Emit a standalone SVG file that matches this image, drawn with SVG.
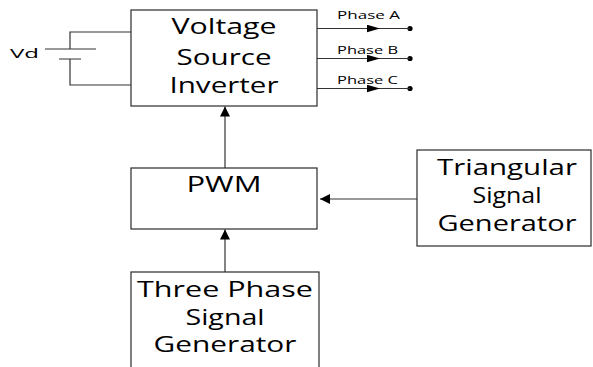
<svg xmlns="http://www.w3.org/2000/svg" width="593" height="367" viewBox="0 0 593 367">
<defs>
<style>
.box{fill:#fff;stroke:#2a2a2a;stroke-width:1.2}
.t{font-family:"Open Sans","Liberation Sans",sans-serif;font-size:22px;fill:#000;text-anchor:middle}
.s{font-family:"Open Sans","Liberation Sans",sans-serif;font-size:11px;fill:#000}
.w{fill:none;stroke:#333;stroke-width:1.2}
.c{fill:none;stroke:#333;stroke-width:1.2}
</style>
<marker id="ah" markerUnits="userSpaceOnUse" markerWidth="12" markerHeight="10" refX="9" refY="4.5" orient="auto" viewBox="0 0 10 9">
<path d="M0,0 L9,4.5 L0,9 Z" fill="#000"/>
</marker>
<marker id="ahp" markerUnits="userSpaceOnUse" markerWidth="13" markerHeight="8" refX="12" refY="3.5" orient="auto" viewBox="0 0 12 7">
<path d="M0,0 L12,3.5 L0,7 Z" fill="#000"/>
</marker>
</defs>
<rect width="593" height="367" fill="#fff"/>

<g id="battery">
<path class="w" d="M131,32 H70 V49 M45,49 H96 M59,59 H81 M70,59 V85 H131"/>
<text class="s" x="10" y="57.5" style="font-size:13.5px" textLength="29" lengthAdjust="spacingAndGlyphs">Vd</text>
</g>

<g id="vsi">
<rect class="box" x="131" y="10" width="186" height="96"/>
<text class="t" x="224" y="33.5" textLength="105" lengthAdjust="spacingAndGlyphs">Voltage</text>
<text class="t" x="224" y="64.5" textLength="95" lengthAdjust="spacingAndGlyphs">Source</text>
<text class="t" x="224" y="92.5" textLength="109" lengthAdjust="spacingAndGlyphs">Inverter</text>
</g>

<g id="pwm">
<rect class="box" x="131" y="168" width="186" height="61"/>
<text class="t" x="224" y="191.5" textLength="75" lengthAdjust="spacingAndGlyphs">PWM</text>
</g>

<g id="triangular">
<rect class="box" x="417" y="150" width="174" height="96"/>
<text class="t" x="507" y="175" textLength="140" lengthAdjust="spacingAndGlyphs">Triangular</text>
<text class="t" x="507" y="202.5" textLength="69" lengthAdjust="spacingAndGlyphs">Signal</text>
<text class="t" x="507" y="231" textLength="139" lengthAdjust="spacingAndGlyphs">Generator</text>
</g>

<g id="threephase">
<rect class="box" x="131" y="272" width="188" height="100"/>
<text class="t" x="225" y="297" textLength="176" lengthAdjust="spacingAndGlyphs">Three Phase</text>
<text class="t" x="225" y="324.5" textLength="79" lengthAdjust="spacingAndGlyphs">Signal</text>
<text class="t" x="225" y="351.5" textLength="143" lengthAdjust="spacingAndGlyphs">Generator</text>
</g>

<g id="outputs">
<text class="s" x="337" y="18.5" textLength="63" lengthAdjust="spacingAndGlyphs">Phase A</text>
<text class="s" x="337" y="53.5" textLength="61" lengthAdjust="spacingAndGlyphs">Phase B</text>
<text class="s" x="337" y="83.5" textLength="61" lengthAdjust="spacingAndGlyphs">Phase C</text>
<circle cx="410" cy="28.5" r="2.6" fill="#000"/>
<circle cx="410" cy="58.5" r="2.6" fill="#000"/>
<circle cx="410" cy="88.5" r="2.6" fill="#000"/>
</g>

<g id="connectors">
<path class="c" d="M317,28.5 H380 H410" marker-mid="url(#ahp)"/>
<path class="c" d="M317,58.5 H380 H410" marker-mid="url(#ahp)"/>
<path class="c" d="M317,88.5 H380 H410" marker-mid="url(#ahp)"/>
<path class="c" d="M225,168 V106.5" marker-end="url(#ah)"/>
<path class="c" d="M225,272 V229.5" marker-end="url(#ah)"/>
<path class="c" d="M417,199 H320" marker-end="url(#ah)"/>
</g>
</svg>
